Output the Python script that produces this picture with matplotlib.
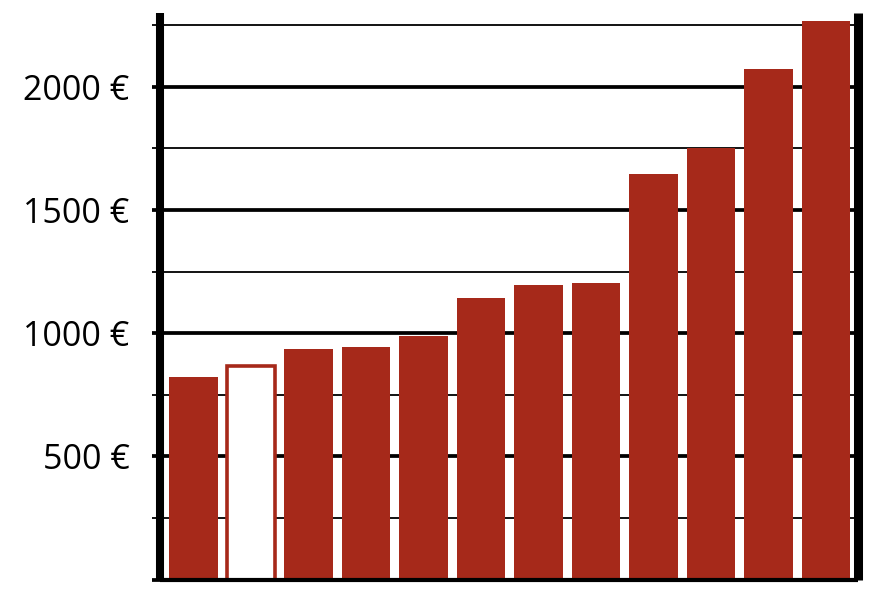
import matplotlib
matplotlib.use("Agg")
import matplotlib.pyplot as plt
from matplotlib.ticker import FixedLocator

# Data
categories = list(range(12))
values = [822, 866, 935, 944, 987, 1143, 1195, 1203, 1646, 1750, 2074, 2266]
outlined = [False, True, False, False, False, False, False, False, False, False, False, False]
major_ticks = [0, 500, 1000, 1500, 2000]
major_labels = ["", "500 €", "1000 €", "1500 €", "2000 €"]
minor_ticks = [250, 750, 1250, 1750, 2250]

RED = "#A6291A"

fig = plt.figure(figsize=(8.72, 5.99), dpi=100)
ax = fig.add_axes([160 / 872, (599 - 579.5) / 599, (857.5 - 160) / 872, (579.5 - 13) / 599])

for x, v, o in zip(categories, values, outlined):
    if o:
        ax.bar(x, v, width=0.84, facecolor="white", edgecolor=RED, linewidth=2.6, zorder=3)
    else:
        ax.bar(x, v, width=0.84, color=RED, linewidth=0, zorder=3)

ax.set_xlim(-0.58, 11.55)
ax.set_ylim(0, 2300)

ax.yaxis.set_major_locator(FixedLocator(major_ticks))
ax.set_yticklabels(major_labels)
ax.yaxis.set_minor_locator(FixedLocator(minor_ticks))
ax.set_xticks([])

ax.grid(which="major", axis="y", color="black", linewidth=2.7, zorder=1)
ax.grid(which="minor", axis="y", color="black", linewidth=1.3, zorder=1)
ax.set_axisbelow(True)

ax.tick_params(axis="y", which="major", length=6, width=2.7, pad=16,
               labelsize=24.5, colors="black")
ax.tick_params(axis="y", which="minor", length=6, width=1.3)

for lab in ax.get_yticklabels():
    lab.set_family(["Open Sans", "DejaVu Sans"])

ax.spines["top"].set_visible(False)
ax.spines["left"].set_linewidth(5.8)
ax.spines["right"].set_linewidth(6.5)
ax.spines["bottom"].set_linewidth(3.0)
for s in ("left", "right", "bottom"):
    ax.spines[s].set_zorder(4)
    ax.spines[s].set_capstyle("butt")

fig.savefig("out.png", dpi=100)
